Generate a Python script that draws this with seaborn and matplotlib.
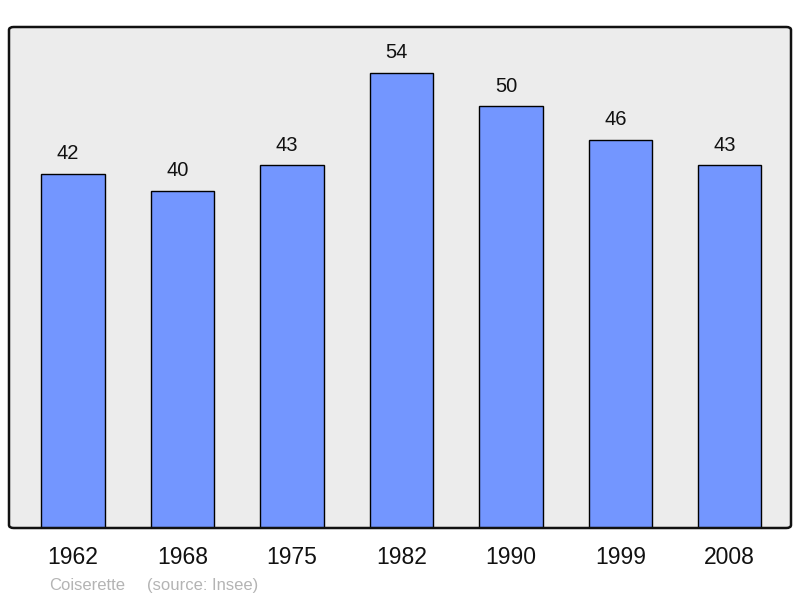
import matplotlib
matplotlib.use("Agg")
import matplotlib.pyplot as plt
from matplotlib.patches import FancyBboxPatch
import seaborn as sns
import pandas as pd

years = ["1962", "1968", "1975", "1982", "1990", "1999", "2008"]
population = [42, 40, 43, 54, 50, 46, 43]

sns.set_style("white")
plt.rcParams['font.family'] = ['Liberation Sans', 'DejaVu Sans']

df = pd.DataFrame({"year": years, "pop": population})

fig = plt.figure(figsize=(8, 5.98), dpi=100)
ax = fig.add_axes([9/800, 70/598, 782/800, 501/598])
ax.set_facecolor('#ececec')

sns.barplot(data=df, x="year", y="pop", color="#7396ff", saturation=1,
            width=0.58, edgecolor="black", linewidth=1.0, ax=ax, zorder=2)

for i, v in enumerate(population):
    ax.text(i - 0.045, v + 2.4, str(v), ha='center', va='center', fontsize=14.5, color='#111111')

ax.set_ylim(0, 59.4)
ax.set_xlim(-0.585, 6.56)
ax.set_yticks([])
ax.set_xlabel("")
ax.set_ylabel("")
ax.tick_params(axis='x', length=0, pad=13, labelsize=16.5, colors='#111111')
for s in ax.spines.values():
    s.set_visible(False)

frame = FancyBboxPatch((0, 0), 1, 1, boxstyle="round,pad=0,rounding_size=0.006",
                       transform=ax.transAxes, fill=False, edgecolor='#111111',
                       linewidth=1.8, clip_on=False, zorder=5)
ax.add_patch(frame)

fig.text(49/800, 1 - 585.5/598, "Coiserette", fontsize=12, color='#b4b4b4', ha='left', va='center')
fig.text(147/800, 1 - 585.5/598, "(source: Insee)", fontsize=12, color='#b4b4b4', ha='left', va='center')

fig.savefig("out.png", dpi=100)
